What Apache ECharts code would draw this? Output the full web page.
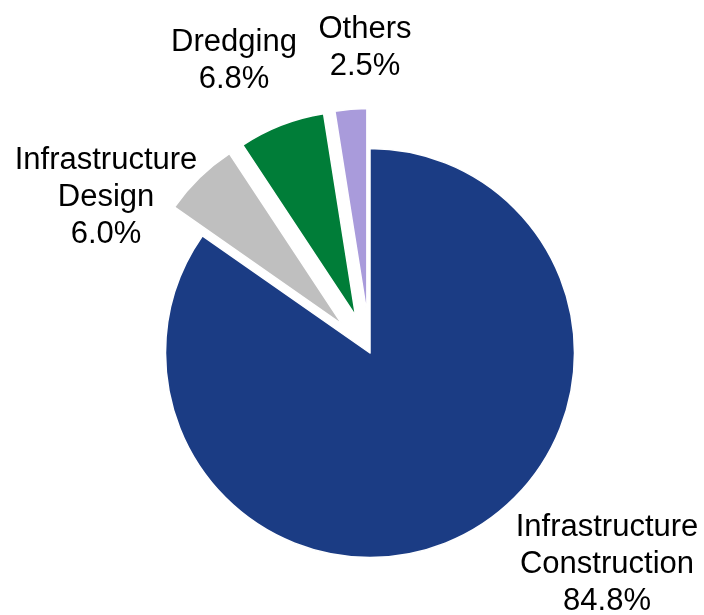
<!DOCTYPE html>
<html>
<head>
<meta charset="utf-8">
<script src="https://cdn.jsdelivr.net/npm/echarts@6/dist/echarts.min.js"></script>
<style>
html,body{margin:0;padding:0;background:#fff;}
#chart{width:704px;height:615px;}
</style>
</head>
<body>
<div id="chart"></div>
<script>
const categories = ['Infrastructure\nConstruction', 'Infrastructure\nDesign', 'Dredging', 'Others'];
const values = [84.8, 6.0, 6.8, 2.5];
const exploded = [false, true, true, true];

const colors = ['#1b3c84', '#bfbfbf', '#007d38', '#a99bdb'];
const labelPos = [[607, 564], [106, 197], [234, 61], [365, 48]];

const chart = echarts.init(document.getElementById('chart'));
const center = [370, 353];
const radius = 204.5;

chart.setOption({
  animation: false,
  series: [{
    type: 'pie',
    center: center,
    radius: radius,
    startAngle: 90,
    clockwise: true,
    selectedMode: 'multiple',
    selectedOffset: 40,
    emphasis: { disabled: true },
    itemStyle: { borderColor: '#ffffff', borderWidth: 1.5 },
    labelLine: { show: false },
    label: { show: false },
    data: categories.map(function (c, i) {
      return { name: c, value: values[i], selected: exploded[i], itemStyle: { color: colors[i] } };
    })
  }, {
    type: 'pie',
    center: center,
    radius: radius,
    startAngle: 90,
    clockwise: true,
    silent: true,
    selectedMode: false,
    emphasis: { disabled: true },
    itemStyle: { color: 'rgba(0,0,0,0)', borderWidth: 0 },
    labelLine: { show: false },
    label: {
      show: true,
      position: 'outside',
      overflow: 'none',
      fontFamily: '"Liberation Sans", Arial, sans-serif',
      fontSize: 31,
      lineHeight: 37,
      color: '#000000',
      align: 'center',
      formatter: function (p) { return p.name + '\n' + p.value.toFixed(1) + '%'; }
    },
    labelLayout: function (p) {
      const pos = labelPos[p.dataIndex];
      return { x: pos[0], y: pos[1], align: 'center', verticalAlign: 'middle', width: 260 };
    },
    data: categories.map(function (c, i) {
      return { name: c, value: values[i] };
    })
  }]
});
</script>
</body>
</html>
